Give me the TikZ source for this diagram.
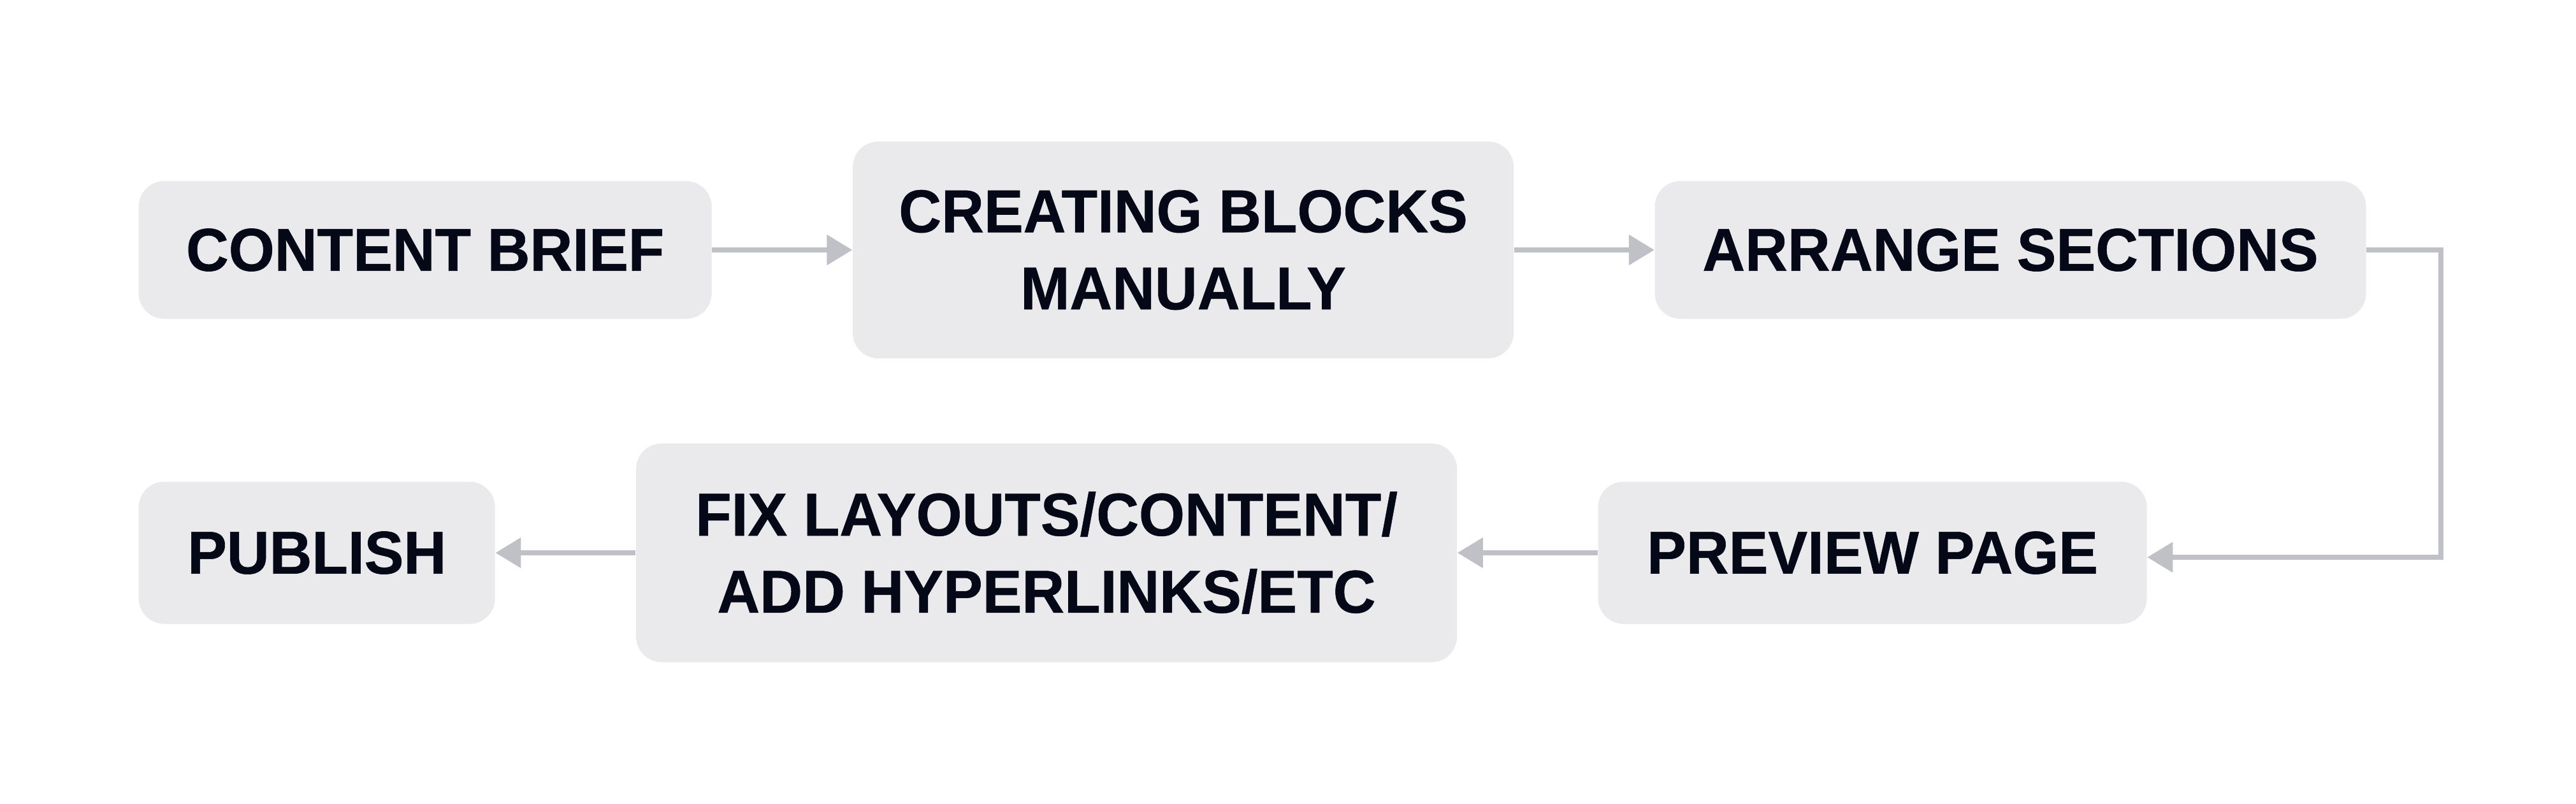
\documentclass[tikz,border=0pt]{standalone}
\usepackage{fontspec}
\setmainfont{Liberation Sans}
\newfontfamily\boxfont{Liberation Sans Bold}[FakeStretch=0.975, FakeBold=0.6]
\usepackage{xcolor}
\usetikzlibrary{arrows.meta,positioning,calc}

\definecolor{boxfill}{HTML}{EAEAED}
\definecolor{boxtext}{HTML}{050816}
\definecolor{linkgray}{HTML}{C0C1C6}

\begin{document}
\begin{tikzpicture}[node distance=2.2cm,
  state/.style={rectangle, fill=boxfill, rounded corners=0.4cm, align=center, inner sep=0pt,
    text=boxtext, font=\boxfont\fontsize{27}{34.4}\selectfont},
  line/.style={draw=linkgray, line width=0.08cm, -{Triangle[length=0.4cm, width=0.46cm]}}]

  \useasboundingbox[fill=white] (0,0) rectangle (40.42,-12.6);

  % top row
  \node [state, minimum width=8.99cm, minimum height=2.16cm, anchor=west] (brief) at (2.17,-3.92) {CONTENT BRIEF};
  \node [state, minimum width=10.37cm, minimum height=3.40cm, right=of brief] (blocks) {CREATING BLOCKS\\MANUALLY};
  \node [state, minimum width=11.16cm, minimum height=2.16cm, right=of blocks] (arrange) {ARRANGE SECTIONS};

  % bottom row
  \node [state, minimum width=5.59cm, minimum height=2.23cm, anchor=west] (publish) at (2.17,-8.67) {PUBLISH};
  \node [state, minimum width=12.88cm, minimum height=3.43cm, right=of publish] (fix) {FIX LAYOUTS/CONTENT/\\ADD HYPERLINKS/ETC};
  \node [state, minimum width=8.61cm, minimum height=2.23cm, right=of fix] (preview) {PREVIEW PAGE};

  \coordinate (turn) at ($(arrange.east)+(1.17,0)$);
  \coordinate (entry) at ($(preview.east)+(0,-0.07)$);

  \path [line] (brief) -- (blocks);
  \path [line] (blocks) -- (arrange);
  \path [line] (arrange.east) -- (turn) |- (entry);
  \path [line] (preview) -- (fix);
  \path [line] (fix) -- (publish);
\end{tikzpicture}
\end{document}
